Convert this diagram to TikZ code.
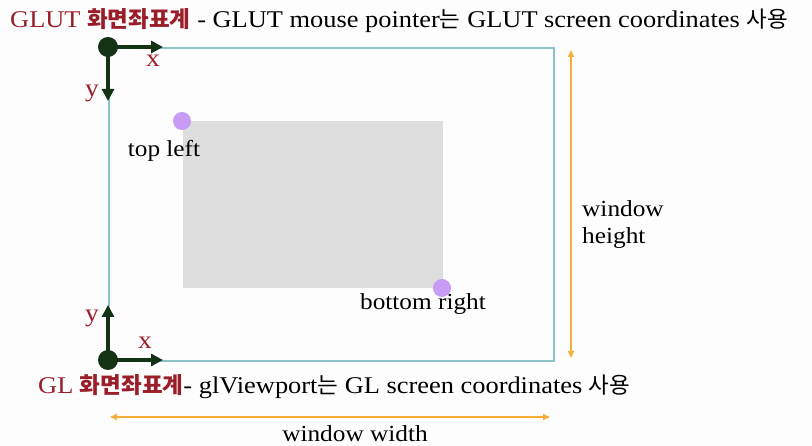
\documentclass[tikz,border=0pt]{standalone}
\usepackage{fontspec}
\setmainfont{Liberation Serif}[FakeStretch=1.1]
\newfontfamily\kr{Noto Sans CJK KR}
\usetikzlibrary{arrows.meta}
\definecolor{bgc}{HTML}{FCFDFC}
\definecolor{frame}{HTML}{8CC3C8}
\definecolor{darkg}{HTML}{143214}
\definecolor{redt}{HTML}{9A1E2A}
\definecolor{orng}{HTML}{F5AE3A}
\definecolor{purp}{HTML}{C89BF5}
\definecolor{grayr}{HTML}{DDDDDD}
\newcommand\krs{\kr\fontsize{22.5}{26}\selectfont}
\begin{document}
\begin{tikzpicture}[x=1pt,y=-1pt,
  axis/.style={darkg,line width=3.6pt,-{Triangle[length=12pt,width=12pt]}},
  dim/.style={orng,line width=2pt,{Triangle[length=7pt,width=6pt]}-{Triangle[length=7pt,width=6pt]}},
  lbl/.style={inner sep=0pt,font=\fontsize{23}{27}\selectfont},
  ttl/.style={inner sep=0pt,font=\fontsize{24}{26}\selectfont},
  axl/.style={inner sep=0pt,text=redt,font=\fontsize{25}{27}\selectfont},
  pdot/.style={circle,fill=purp,inner sep=0pt,minimum size=18pt},
  gdot/.style={circle,fill=darkg,inner sep=0pt,minimum size=20pt}]
\fill[bgc] (0,0) rectangle (812,446);
\useasboundingbox (0,0) rectangle (812,446);
% titles
\node[ttl,anchor=base west] (t1) at (10,28) {\textcolor{redt}{GLUT {\krs\bfseries 화면좌표계}} - GLUT mouse pointer{\krs 는} GLUT screen coordinates {\krs 사용}};
\node[ttl,anchor=base west] (t2) at (38,394) {\textcolor{redt}{GL {\krs\bfseries 화면좌표계}}- glViewport{\krs 는} GL screen coordinates {\krs 사용}};
% window
\node[draw=frame,line width=1.8pt,minimum width=445pt,minimum height=313pt,anchor=north west,inner sep=0pt] (win) at (108,47) {};
\node[fill=grayr,minimum width=260pt,minimum height=167pt,anchor=north west,inner sep=0pt] (vp) at (183,121) {};
\node[pdot] (tl) at (182,121) {};
\node[pdot] (br) at (442,288) {};
\node[lbl] (tlt) at (164,151) {top left};
\node[lbl] (brt) at (423,304) {bottom right};
% axes
\node[gdot] (o1) at (108,47) {};
\coordinate (x1) at (163,47);
\coordinate (y1) at (108,101);
\draw[axis] (o1.center) -- (x1);
\draw[axis] (o1.center) -- (y1);
\node[axl] (x1l) at (153,61) {x};
\node[axl] (y1l) at (92,93) {y};
\node[gdot] (o2) at (108,360) {};
\coordinate (x2) at (163,360);
\coordinate (y2) at (108,305);
\draw[axis] (o2.center) -- (x2);
\draw[axis] (o2.center) -- (y2);
\node[axl] (x2l) at (145,343) {x};
\node[axl] (y2l) at (92,318) {y};
% dimensions
\coordinate (h1) at (571,50);
\coordinate (h2) at (571,358);
\draw[dim] (h1) -- (h2);
\node[lbl,anchor=west,align=left] (ht) at (582,225) {window\\height};
\coordinate (w1) at (110,417);
\coordinate (w2) at (550,417);
\draw[dim] (w1) -- (w2);
\node[lbl] (wt) at (355,434) {window width};
\end{tikzpicture}
\end{document}
